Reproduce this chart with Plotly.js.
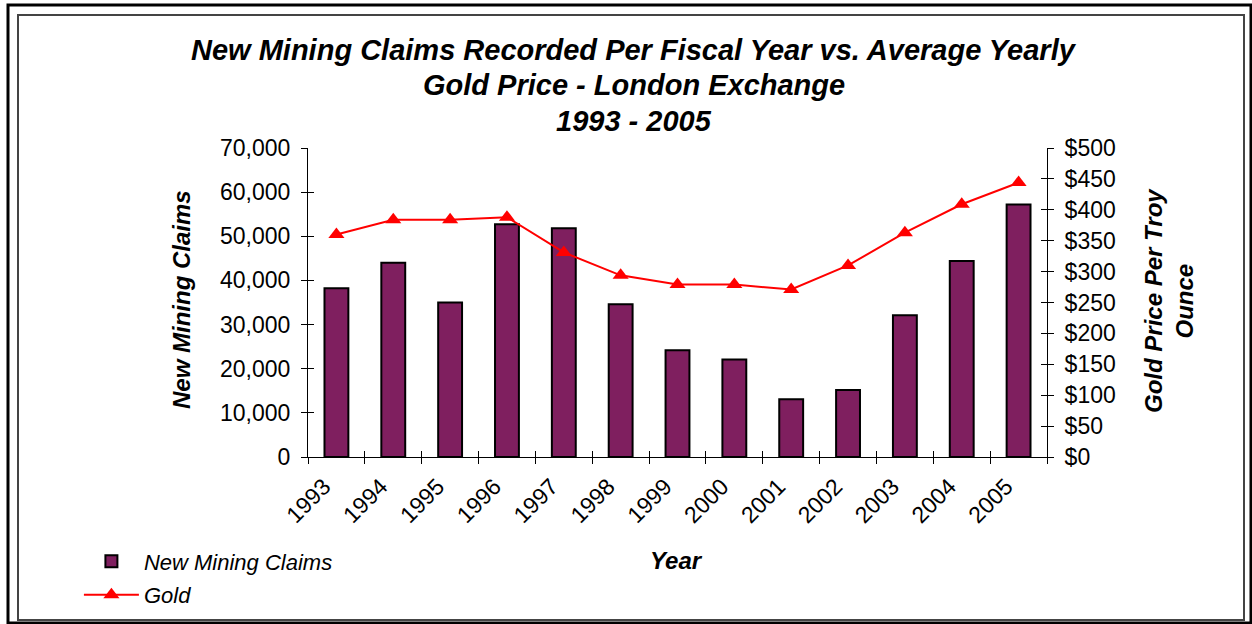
<!DOCTYPE html>
<html>
<head>
<meta charset="utf-8">
<script src="https://cdn.plot.ly/plotly-3.0.1.min.js"></script>
<style>
html,body{margin:0;padding:0;background:#fff;}
#chart{width:1252px;height:624px;}
</style>
</head>
<body>
<div id="chart"></div>
<script>
// Data
var years = [1993, 1994, 1995, 1996, 1997, 1998, 1999, 2000, 2001, 2002, 2003, 2004, 2005];
var claims = [38200, 44000, 35000, 52700, 51800, 34600, 24200, 22100, 13100, 15200, 32100, 44400, 57200];
var gold = [360, 384, 384, 388, 331, 294, 279, 279, 271, 310, 363, 409, 444];
var tickYears = [1993, 1994, 1995, 1996, 1997, 1998, 1999, 2000, 2001, 2002, 2003, 2004, 2005, 2006];
var tickYearLabels = ['1993', '1994', '1995', '1996', '1997', '1998', '1999', '2000', '2001', '2002', '2003', '2004', '2005', ''];
var leftTicks = [0, 10000, 20000, 30000, 40000, 50000, 60000, 70000];
var leftTickLabels = ['0', '10,000', '20,000', '30,000', '40,000', '50,000', '60,000', '70,000'];
var rightTicks = [0, 50, 100, 150, 200, 250, 300, 350, 400, 450, 500];
var rightTickLabels = ['$0', '$50', '$100', '$150', '$200', '$250', '$300', '$350', '$400', '$450', '$500'];

var xMid = years.map(function (y) { return y + 0.5; });
var fontFam = 'Arial, "Liberation Sans", sans-serif';

var traces = [
  {
    type: 'bar', name: 'New Mining Claims', legendgroup: 'a',
    x: xMid, y: claims, width: 0.42,
    marker: { color: '#7F1F5F', line: { color: '#000000', width: 2 } },
    xaxis: 'x', yaxis: 'y'
  },
  {
    type: 'scatter', mode: 'lines+markers', name: 'Gold', legendgroup: 'b',
    x: xMid, y: gold, yaxis: 'y2', xaxis: 'x',
    line: { color: '#FF0000', width: 2 },
    marker: { symbol: 'triangle-up', size: 14, color: '#FF0000' }
  },
  { type: 'scatter', x: [], y: [], xaxis: 'x2', yaxis: 'y3', showlegend: false, hoverinfo: 'skip' },
  { type: 'scatter', x: [], y: [], xaxis: 'x2', yaxis: 'y4', showlegend: false, hoverinfo: 'skip' }
];

var tickFont = { family: fontFam, size: 23, color: '#000' };
var titleFont = { family: fontFam, size: 29, weight: 'bold', style: 'italic', color: '#000' };
var axTitleFont = { family: fontFam, size: 24, weight: 'bold', style: 'italic', color: '#000' };
var layout = {
  width: 1252, height: 624,
  margin: { l: 308, r: 205, t: 148, b: 167, autoexpand: false },
  paper_bgcolor: '#ffffff', plot_bgcolor: '#ffffff',
  showlegend: true,
  bargap: 0,
  font: { family: fontFam, color: '#000' },
  xaxis: {
    type: 'linear', range: [1993, 2006], tickmode: 'array',
    tickvals: tickYears, ticktext: tickYearLabels, tickangle: -45,
    ticks: 'outside', ticklen: 6, tickcolor: '#000', tickwidth: 1,
    showline: true, linecolor: '#000', linewidth: 1, automargin: false,
    showgrid: false, zeroline: false, tickfont: tickFont, ticklabelshift: 16,
    fixedrange: true
  },
  xaxis2: {
    type: 'linear', range: [1993, 2006], overlaying: 'x', anchor: 'y', side: 'bottom',
    tickmode: 'array', tickvals: tickYears, showticklabels: false,
    ticks: 'inside', ticklen: 6, tickcolor: '#000', tickwidth: 1,
    showline: false, showgrid: false, zeroline: false
  },
  yaxis: {
    range: [0, 70000], tickmode: 'array', tickvals: leftTicks, ticktext: leftTickLabels,
    ticks: 'outside', ticklen: 6, tickcolor: '#000', tickwidth: 1,
    showline: true, linecolor: '#000', linewidth: 1, automargin: false,
    showgrid: false, zeroline: false, tickfont: tickFont, ticklabelstandoff: 6
  },
  yaxis2: {
    range: [0, 500], overlaying: 'y', side: 'right', anchor: 'x',
    tickmode: 'array', tickvals: rightTicks, ticktext: rightTickLabels,
    ticks: 'outside', ticklen: 6, tickcolor: '#000', tickwidth: 1,
    showline: true, linecolor: '#000', linewidth: 1, automargin: false,
    showgrid: false, zeroline: false, tickfont: tickFont, ticklabelstandoff: 6
  },
  yaxis3: {
    range: [0, 70000], overlaying: 'y', side: 'left', anchor: 'x',
    tickmode: 'array', tickvals: leftTicks, showticklabels: false,
    ticks: 'inside', ticklen: 6, tickcolor: '#000', tickwidth: 1,
    showline: false, showgrid: false, zeroline: false
  },
  yaxis4: {
    range: [0, 500], overlaying: 'y', side: 'right', anchor: 'x',
    tickmode: 'array', tickvals: rightTicks, showticklabels: false,
    ticks: 'inside', ticklen: 6, tickcolor: '#000', tickwidth: 1,
    showline: false, showgrid: false, zeroline: false
  },
  legend: {
    x: -0.31, xanchor: 'left', y: -0.27, yanchor: 'top',
    orientation: 'v', bgcolor: 'rgba(0,0,0,0)',
    font: { family: fontFam, size: 22, style: 'italic', color: '#000' },
    itemwidth: 55, tracegroupgap: 2
  },
  annotations: [
    { xref: 'paper', yref: 'paper', x: (634 - 308) / 739, y: (457 - 50) / 309, xanchor: 'center', yanchor: 'middle', showarrow: false,
      text: 'New Mining Claims Recorded Per Fiscal Year vs. Average Yearly', font: titleFont },
    { xref: 'paper', yref: 'paper', x: (634 - 308) / 739, y: (457 - 85) / 309, xanchor: 'center', yanchor: 'middle', showarrow: false,
      text: 'Gold Price - London Exchange', font: titleFont },
    { xref: 'paper', yref: 'paper', x: (634 - 308) / 739, y: (457 - 121) / 309, xanchor: 'center', yanchor: 'middle', showarrow: false,
      text: '1993 - 2005', font: titleFont },
    { xref: 'paper', yref: 'paper', x: (181 - 308) / 739, y: (457 - 300) / 309, xanchor: 'center', yanchor: 'middle', showarrow: false,
      textangle: -90, text: 'New Mining Claims', font: axTitleFont },
    { xref: 'paper', yref: 'paper', x: (1169 - 308) / 739, y: (457 - 301) / 309, xanchor: 'center', yanchor: 'middle', showarrow: false,
      textangle: -90, text: 'Gold Price Per Troy<br>Ounce', font: axTitleFont },
    { xref: 'paper', yref: 'paper', x: (676 - 308) / 739, y: (457 - 560) / 309, xanchor: 'center', yanchor: 'middle', showarrow: false,
      text: 'Year', font: axTitleFont }
  ],
  shapes: [
    { type: 'rect', xref: 'paper', yref: 'paper', x0: (8 - 308) / 739, x1: (1251 - 308) / 739, y0: (457 - 623) / 309, y1: (457 - 5) / 309,
      line: { color: '#000', width: 3 } },
    { type: 'rect', xref: 'paper', yref: 'paper', x0: (18 - 308) / 739, x1: (1244 - 308) / 739, y0: (457 - 620) / 309, y1: (457 - 15) / 309,
      line: { color: '#444', width: 2 } }
  ]
};

Plotly.newPlot('chart', traces, layout, { displayModeBar: false, staticPlot: true });
</script>
</body>
</html>
